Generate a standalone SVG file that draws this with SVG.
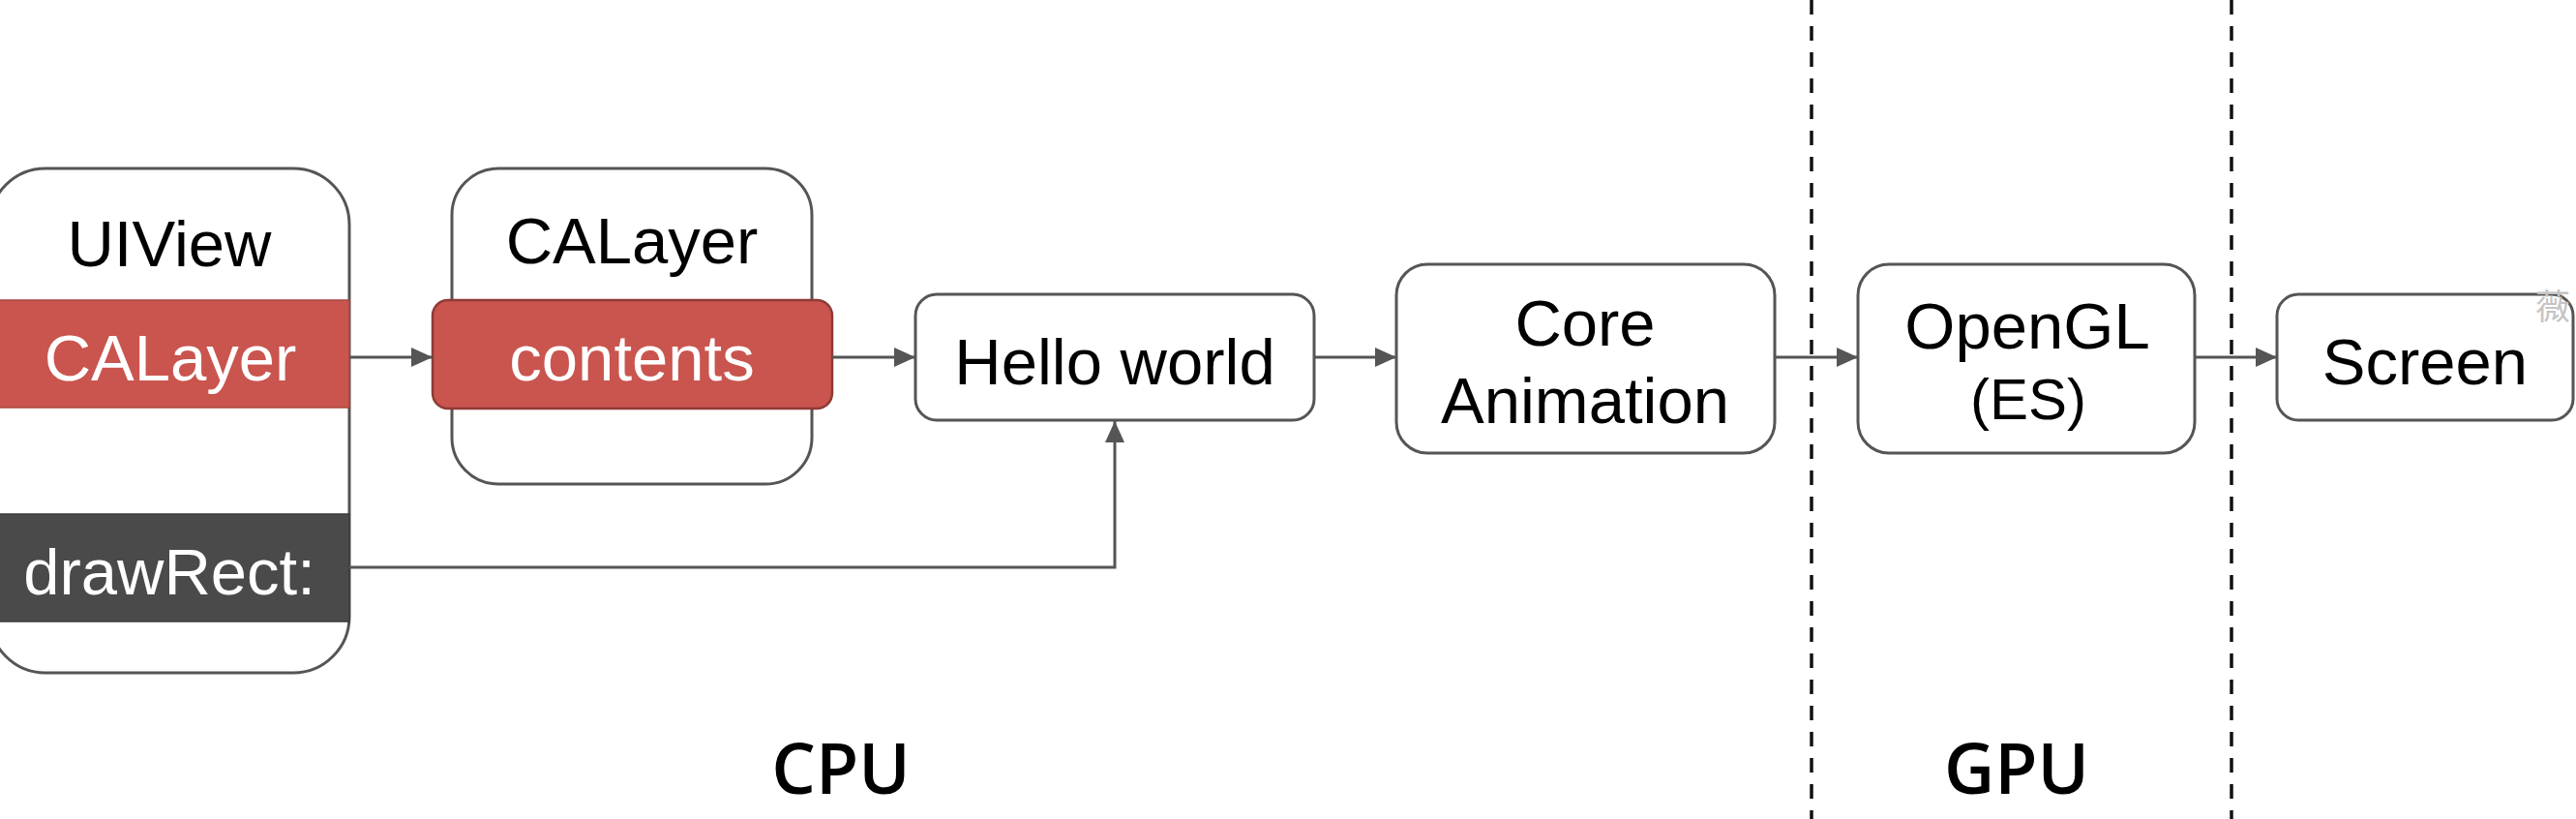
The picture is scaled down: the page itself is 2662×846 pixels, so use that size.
<svg xmlns="http://www.w3.org/2000/svg" width="2662" height="846" viewBox="0 0 2662 846">
<style>
.box{fill:#ffffff;stroke:#555555;stroke-width:3}
.lbl{font-family:"Liberation Sans",Arial,sans-serif;font-size:67px;fill:#000000;text-anchor:middle}
.wht{fill:#ffffff}
.con{fill:none;stroke:#555555;stroke-width:3}
.sep{stroke:#111111;stroke-width:3.5;stroke-dasharray:15 12}
.sec{font-family:"Open Sans","Noto Sans",sans-serif;font-weight:600;font-size:72px;fill:#000000;text-anchor:middle}
</style>
<defs>
<marker id="arr" markerUnits="userSpaceOnUse" markerWidth="24" markerHeight="22" refX="22" refY="10" orient="auto">
<path d="M0,0 L22,10 L0,20 Z" fill="#555555"/>
</marker>
</defs>
<rect width="2662" height="846" fill="#ffffff"/>

<g id="separators">
<line class="sep" x1="1872" y1="0" x2="1872" y2="846"/>
<line class="sep" x1="2306" y1="0" x2="2306" y2="846"/>
</g>

<g id="uiview">
<rect class="box" x="-11" y="174" width="372" height="521" rx="58"/>
<text class="lbl" x="175" y="275">UIView</text>
<rect x="-5" y="310" width="366" height="111" fill="#c9554e" stroke="#a8463f" stroke-width="1.5"/>
<text class="lbl wht" x="176" y="393">CALayer</text>
<rect x="-5" y="531" width="366" height="111" fill="#4b4a4b" stroke="#3c3b3c" stroke-width="1.5"/>
<text class="lbl wht" x="175" y="614">drawRect:</text>
</g>

<g id="calayer">
<rect class="box" x="467" y="174" width="372" height="326" rx="48"/>
<text class="lbl" x="653" y="272">CALayer</text>
<rect x="447" y="310" width="413" height="112" rx="16" fill="#c9554e" stroke="#8e3b36" stroke-width="2.5"/>
<text class="lbl wht" x="653" y="393">contents</text>
</g>

<g id="hello">
<rect class="box" x="946" y="304" width="412" height="130" rx="22"/>
<text class="lbl" x="1152" y="397">Hello world</text>
</g>

<g id="coreanimation">
<rect class="box" x="1443" y="273" width="391" height="195" rx="32"/>
<text class="lbl" x="1638" y="357">Core</text>
<text class="lbl" x="1638" y="437">Animation</text>
</g>

<g id="opengl">
<rect class="box" x="1920" y="273" width="348" height="195" rx="32"/>
<text class="lbl" x="2095" y="360">OpenGL</text>
<text class="lbl" x="2096" y="433" style="font-size:60px">(ES)</text>
</g>

<g id="screen">
<rect class="box" x="2353" y="304" width="306" height="130" rx="22"/>
<text class="lbl" x="2506" y="397">Screen</text>
</g>

<g id="connectors">
<line class="con" x1="361" y1="369" x2="447" y2="369" marker-end="url(#arr)"/>
<line class="con" x1="860" y1="369" x2="946" y2="369" marker-end="url(#arr)"/>
<line class="con" x1="1358" y1="369" x2="1443" y2="369" marker-end="url(#arr)"/>
<line class="con" x1="1834" y1="369" x2="1920" y2="369" marker-end="url(#arr)"/>
<line class="con" x1="2268" y1="369" x2="2353" y2="369" marker-end="url(#arr)"/>
<polyline class="con" points="361,586 1152,586 1152,435" marker-end="url(#arr)"/>
</g>

<g id="labels">
<text class="sec" x="869" y="820">CPU</text>
<text class="sec" x="2084" y="820">GPU</text>
<text x="2620" y="330" style="font-family:'Noto Sans CJK SC',sans-serif;font-size:36px;fill:#c4c4c4">薇</text>
</g>
</svg>
